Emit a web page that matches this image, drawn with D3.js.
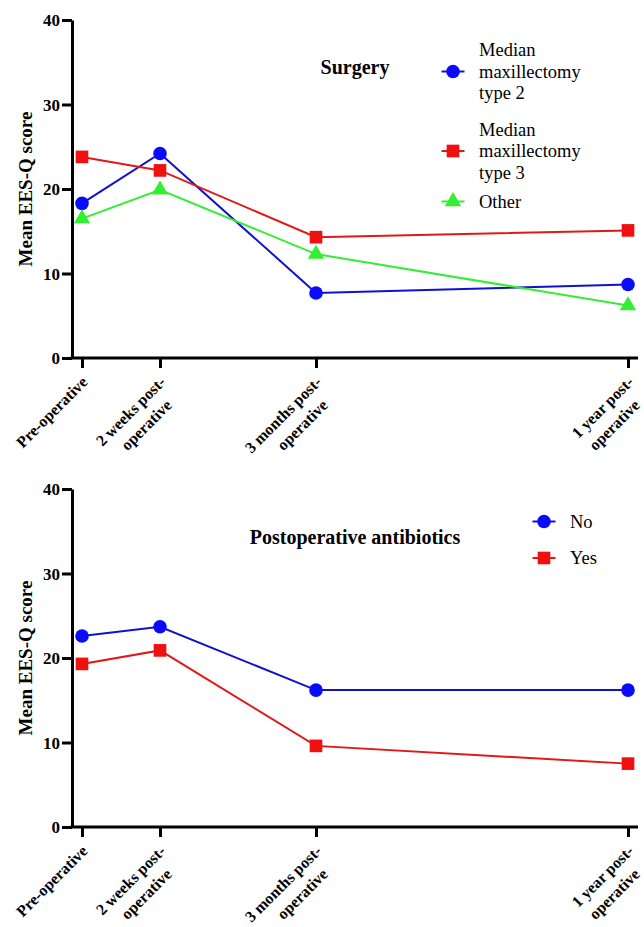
<!DOCTYPE html>
<html>
<head>
<meta charset="utf-8">
<script src="https://cdn.jsdelivr.net/npm/d3@7"></script>
<style>
  body { margin: 0; background: #fff; }
  svg { display: block; }
  svg text { font-family: "Liberation Serif", "DejaVu Serif", "Noto Serif", Times, serif; }
  .axis path, .axis line { stroke: #000; stroke-width: 3px; }
  .axis text { font-weight: bold; font-size: 17px; fill: #000; }
  .axis .xlab { font-size: 16px; }
  .title { font-weight: bold; font-size: 20px; }
  .ylabel { font-weight: bold; font-size: 19px; }
  .legend-label { font-size: 18.5px; }
</style>
</head>
<body>
<div id="chart"></div>
<script>
const TIME_LABELS = [
  ["Pre-operative"],
  ["2 weeks post-", "operative"],
  ["3 months post-", "operative"],
  ["1 year post-", "operative"]
];
const TIME_POS = [0, 1, 3, 7];
const Y_TICKS = [0, 10, 20, 30, 40];

// Surgery panel
const MAX_TYPE2 = [18.3, 24.2, 7.7, 8.7];
const MAX_TYPE3 = [23.8, 22.2, 14.3, 15.1];
const OTHER = [16.5, 19.9, 12.3, 6.2];

// Postoperative antibiotics panel
const ABX_NO = [22.6, 23.7, 16.2, 16.2];
const ABX_YES = [19.3, 20.9, 9.6, 7.5];

const BLUE = "#0a0aff", RED = "#f01010", GREEN = "#33ee33";
const LINE_BLUE = "#1010d0", LINE_RED = "#e01818";

const W = 644, H = 927;
const svg = d3.select("#chart").append("svg")
  .attr("width", W).attr("height", H)
  .attr("viewBox", `0 0 ${W} ${H}`);

const x = d3.scaleLinear().domain([0, 7]).range([82, 628]);

const SYMBOLS = {
  circle: d3.symbol().type(d3.symbolCircle).size(145),
  square: d3.symbol().type(d3.symbolSquare).size(160),
  triangle: d3.symbol().type(d3.symbolTriangle).size(115)
};

drawPanel(20, {
  title: "Surgery",
  titleY: 54,
  legendX: 453,
  textX: 479,
  series: [
    { values: MAX_TYPE2, label: ["Median", "maxillectomy", "type 2"], fill: BLUE, stroke: LINE_BLUE, shape: "circle", ly: 51.5 },
    { values: MAX_TYPE3, label: ["Median", "maxillectomy", "type 3"], fill: RED, stroke: LINE_RED, shape: "square", ly: 131 },
    { values: OTHER, label: ["Other"], fill: GREEN, stroke: GREEN, shape: "triangle", ly: 181.5 }
  ]
});

drawPanel(489, {
  title: "Postoperative antibiotics",
  titleY: 55,
  legendX: 544,
  textX: 570,
  series: [
    { values: ABX_NO, label: ["No"], fill: BLUE, stroke: LINE_BLUE, shape: "circle", ly: 32.5 },
    { values: ABX_YES, label: ["Yes"], fill: RED, stroke: LINE_RED, shape: "square", ly: 69 }
  ]
});

function drawPanel(top, cfg) {
  const plotH = 338;
  const y = d3.scaleLinear().domain([0, 40]).range([top + plotH, top]);
  const g = svg.append("g");

  // y axis
  const yAxisG = g.append("g").attr("class", "axis")
    .attr("transform", "translate(72,0)")
    .call(d3.axisLeft(y).tickValues(Y_TICKS).tickSize(10).tickSizeOuter(0).tickPadding(2));
  yAxisG.attr("font-family", null);
  yAxisG.selectAll("text").attr("dy", "0.34em");

  // x axis
  const x0 = x.range()[0] - 10, x1 = x.range()[1] + 10;
  const xAxisG = g.append("g").attr("class", "axis")
    .attr("transform", `translate(0,${y(0)})`)
    .call(d3.axisBottom(x).tickValues(TIME_POS).tickSize(10).tickSizeOuter(0).tickFormat(""));
  xAxisG.attr("font-family", null);
  xAxisG.select(".domain").attr("d", `M${x0 - 1.5},0H${x1}`);

  xAxisG.selectAll(".tick").each(function (d, i) {
    const t = d3.select(this).append("text")
      .attr("class", "xlab")
      .attr("transform", "translate(6,25) rotate(-45)")
      .attr("text-anchor", "end")
      .attr("fill", "#000");
    TIME_LABELS[i].forEach((line, j) => {
      t.append("tspan").attr("x", j === 0 ? 0 : -12).attr("dy", j === 0 ? 0 : "1.3em").text(line);
    });
  });

  // y label
  g.append("text").attr("class", "ylabel")
    .attr("transform", `translate(32,${(y(0) + y(40)) / 2}) rotate(-90)`)
    .attr("text-anchor", "middle")
    .text("Mean EES-Q score");

  // title
  g.append("text").attr("class", "title")
    .attr("x", 355).attr("y", top + cfg.titleY)
    .attr("text-anchor", "middle")
    .text(cfg.title);

  const line = d3.line().x((d, i) => x(TIME_POS[i])).y(d => y(d));

  cfg.series.forEach(s => {
    g.append("path")
      .attr("d", line(s.values))
      .attr("fill", "none")
      .attr("stroke", s.stroke)
      .attr("stroke-width", 2);

    g.selectAll(null)
      .data(s.values)
      .join("path")
      .attr("transform", (d, i) => `translate(${x(TIME_POS[i])},${y(d)})`)
      .attr("d", SYMBOLS[s.shape]())
      .attr("fill", s.fill);

    // legend
    const ly = top + s.ly;
    const lg = g.append("g");
    lg.append("line")
      .attr("x1", cfg.legendX - 11.5).attr("x2", cfg.legendX + 11.5)
      .attr("y1", ly).attr("y2", ly)
      .attr("stroke", s.stroke).attr("stroke-width", 2);
    lg.append("path")
      .attr("transform", `translate(${cfg.legendX},${ly})`)
      .attr("d", SYMBOLS[s.shape]())
      .attr("fill", s.fill);
    const n = s.label.length;
    s.label.forEach((txt, j) => {
      lg.append("text").attr("class", "legend-label")
        .attr("x", cfg.textX)
        .attr("y", ly + 6 + (j - (n - 1) / 2) * 21.5)
        .text(txt);
    });
  });
}
</script>
</body>
</html>
